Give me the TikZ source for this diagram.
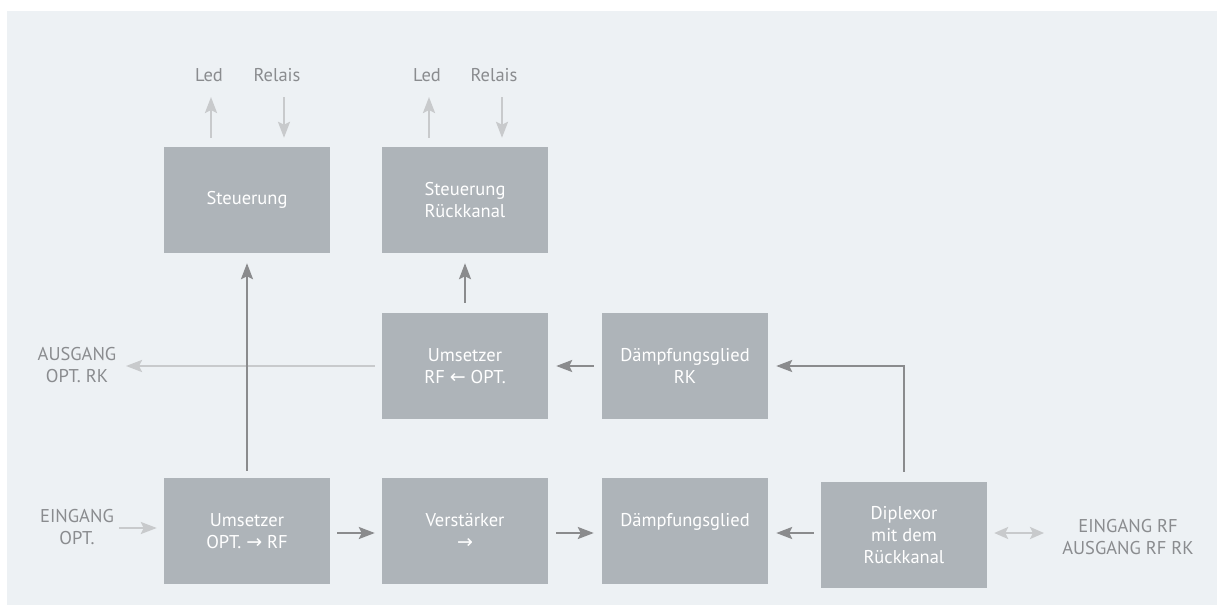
\documentclass[tikz,border=0pt]{standalone}
\usepackage{fontspec}
\setmainfont{PT Sans}
\newfontfamily\symfont{DejaVu Sans}
\usetikzlibrary{arrows.meta}

\definecolor{bgfill}{HTML}{EDF1F4}
\definecolor{boxfill}{HTML}{AEB4B9}
\definecolor{darkline}{HTML}{8A8B8D}
\definecolor{lightline}{HTML}{C8CACC}
\definecolor{labeltext}{HTML}{8A8C8F}

\newcommand{\arr}[1]{{\symfont\fontsize{19}{21.7}\selectfont #1}}

\begin{document}
\begin{tikzpicture}[x=1pt,y=-1pt,
  block/.style={fill=boxfill, minimum width=166pt, minimum height=106pt,
    inner sep=0pt, text=white, align=center,
    font=\fontsize{18.5}{21.7}\selectfont},
  lbl/.style={text=labeltext, align=center, inner sep=0pt,
    font=\fontsize{18.5}{21.7}\selectfont},
  tip/.style={-{Stealth[length=16pt,width=12pt,inset=3pt]}},
  darr/.style={draw=darkline, line width=2.3pt, tip},
  larr/.style={draw=lightline, line width=2.5pt, tip},
  lboth/.style={draw=lightline, line width=2.5pt,
    {Stealth[length=14pt,width=12pt,inset=3pt]}-{Stealth[length=14pt,width=12pt,inset=3pt]}}]

% canvas and background panel
\useasboundingbox (0,0) rectangle (1217,605);
\fill[bgfill] (7,11) rectangle (1217,605);

% blocks
\node[block] (st)   at (247,200) {Steuerung};
\node[block] (strk) at (465,200) {Steuerung\\Rückkanal};
\node[block] (urk)  at (465,366) {Umsetzer\\RF \arr{←} OPT.};
\node[block] (drk)  at (685,366) {Dämpfungsglied\\RK};
\node[block] (uopt) at (247,531) {Umsetzer\\OPT. \arr{→} RF};
\node[block] (vst)  at (465,531) {Verstärker\\\arr{→}};
\node[block] (daem) at (685,531) {Dämpfungsglied\\\mbox{}};
\node[block] (dipl) at (904,535) {Diplexor\\mit dem\\Rückkanal};

% outer labels
\node[lbl] (ledA) at (209,75) {Led};
\node[lbl] (relA) at (277,75) {Relais};
\node[lbl] (ledB) at (427,75) {Led};
\node[lbl] (relB) at (494,75) {Relais};
\node[lbl] (aus)  at (77,365) {AUSGANG\\OPT. RK};
\node[lbl] (ein)  at (77,527) {EINGANG\\OPT.};
\node[lbl] (rf)   at (1128,537) {EINGANG RF\\AUSGANG RF RK};

% free ends of the outer connectors
\coordinate (ledAend) at (211,97);
\coordinate (relAend) at (284,97);
\coordinate (ledBend) at (429,97);
\coordinate (relBend) at (502,97);
\coordinate (ausend)  at (126,366);
\coordinate (einend)  at (119,528);
\coordinate (rfend)   at (1044,533);

% light connectors
\draw[larr] ([xshift=-36pt,yshift=9pt]st.north) -- (ledAend);
\draw[larr] (relAend) -- ([xshift=37pt,yshift=9pt]st.north);
\draw[larr] ([xshift=-36pt,yshift=9pt]strk.north) -- (ledBend);
\draw[larr] (relBend) -- ([xshift=37pt,yshift=9pt]strk.north);
\draw[larr] ([xshift=-7pt]urk.west) -- (ausend);
\draw[larr] (einend) -- ([xshift=-7pt,yshift=3pt]uopt.west);
\draw[lboth] ([xshift=7pt,yshift=2pt]dipl.east) -- (rfend);

% dark connectors
\draw[darr] ([yshift=7pt]uopt.north) -- ([yshift=-10pt]st.south);
\draw[darr] ([yshift=10pt]urk.north) -- ([yshift=-10pt]strk.south);
\draw[darr] ([xshift=-8pt]drk.west) -- ([xshift=8pt]urk.east);
\draw[darr] ([yshift=10pt]dipl.north) |- ([xshift=8pt]drk.east);
\draw[darr] ([xshift=7pt,yshift=-2pt]uopt.east) -- ([xshift=-7pt,yshift=-2pt]vst.west);
\draw[darr] ([xshift=8pt,yshift=-2pt]vst.east) -- ([xshift=-8pt,yshift=-2pt]daem.west);
\draw[darr] ([xshift=-7pt,yshift=2pt]dipl.west) -- ([xshift=8pt,yshift=-2pt]daem.east);
\end{tikzpicture}
\end{document}
